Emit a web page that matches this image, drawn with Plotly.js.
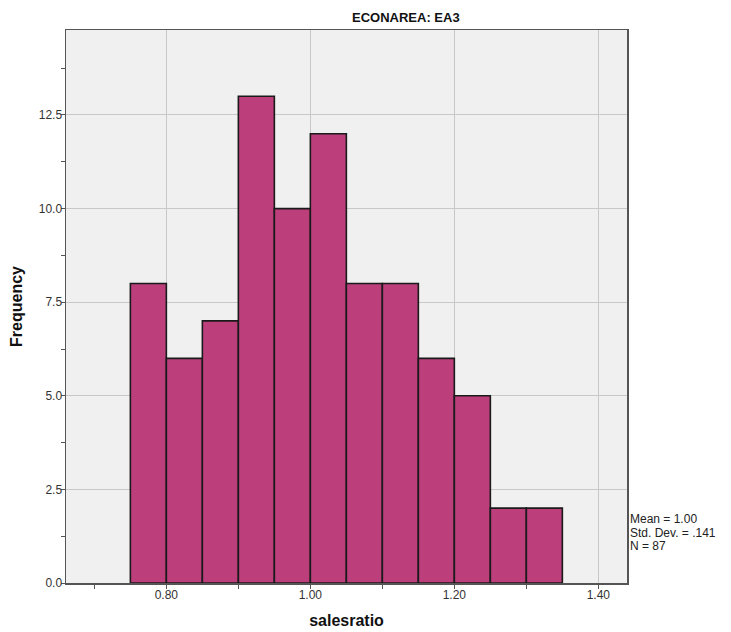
<!DOCTYPE html>
<html>
<head>
<meta charset="utf-8">
<script src="https://cdn.plot.ly/plotly-3.0.1.min.js"></script>
<style>html,body{margin:0;padding:0;background:#fff;}#chart{width:731px;height:632px;}</style>
</head>
<body>
<div id="chart"></div>
<script>
const binStarts = [0.75, 0.80, 0.85, 0.90, 0.95, 1.00, 1.05, 1.10, 1.15, 1.20, 1.25, 1.30];
const binWidth = 0.05;
const counts = [8, 6, 7, 13, 10, 12, 8, 8, 6, 5, 2, 2];
const xTickVals = [0.8, 1.0, 1.2, 1.4];
const xTickText = ['0.80', '1.00', '1.20', '1.40'];
const yTickVals = [0, 2.5, 5, 7.5, 10, 12.5];
const yTickText = ['0.0', '2.5', '5.0', '7.5', '10.0', '12.5'];
const chartTitle = 'ECONAREA: EA3';
const statsLines = ['Mean = 1.00', 'Std. Dev. = .141', 'N = 87'];

const trace = {
  type: 'bar',
  x: binStarts,
  y: counts,
  width: binStarts.map(() => binWidth),
  offset: 0,
  marker: {color: '#BC3F7C', line: {color: '#1a1a1a', width: 1.6}},
  hoverinfo: 'x+y'
};

const font = 'Liberation Sans, Arial, sans-serif';
const plotTop = 30, plotBottom = 583;
const py = p => (plotBottom - p) / (plotBottom - plotTop);

const annotations = [
  {text: '<b>' + chartTitle + '</b>', xref: 'paper', yref: 'paper', x: (406 - 66) / 561, y: 1, yshift: 13,
   xanchor: 'center', yanchor: 'middle', showarrow: false,
   font: {family: font, size: 13, color: '#111111'}}
];
statsLines.forEach((s, i) => {
  annotations.push({text: s, xref: 'paper', yref: 'paper', x: 1, y: py(519 + i * 13.5), xshift: 1,
    xanchor: 'left', yanchor: 'middle', align: 'left', showarrow: false,
    font: {family: font, size: 12, color: '#222222'}});
});

const layout = {
  width: 731, height: 632,
  margin: {l: 66, r: 104, t: plotTop, b: 632 - plotBottom},
  paper_bgcolor: '#ffffff',
  plot_bgcolor: '#F0F0F0',
  showlegend: false,
  bargap: 0,
  xaxis: {
    range: [0.6606, 1.4398],
    tickvals: xTickVals, ticktext: xTickText,
    ticks: '', showgrid: true, gridcolor: '#C8C8C8', gridwidth: 1,
    zeroline: false,
    showline: true, linecolor: '#555555', linewidth: 1.5, mirror: true,
    tickfont: {family: font, size: 12, color: '#333333'},
    minor: {ticks: 'outside', dtick: 0.1, tick0: 0.7, ticklen: 4, tickcolor: '#555555', showgrid: false},
    title: {text: 'salesratio', font: {family: font, size: 16, color: '#111111', weight: 'bold'}, standoff: 14}
  },
  yaxis: {
    range: [0, 14.77],
    tickvals: yTickVals, ticktext: yTickText,
    ticks: '', showgrid: true, gridcolor: '#C8C8C8', gridwidth: 1,
    zeroline: false,
    showline: true, linecolor: '#555555', linewidth: 1.5, mirror: true,
    tickfont: {family: font, size: 12, color: '#333333'},
    minor: {ticks: 'outside', dtick: 1.25, tick0: 0, ticklen: 4, tickcolor: '#555555', showgrid: false},
    title: {text: 'Frequency', font: {family: font, size: 16, color: '#111111', weight: 'bold'}, standoff: 12}
  },
  annotations: annotations
};

Plotly.newPlot('chart', [trace], layout, {displayModeBar: false, staticPlot: true});
</script>
</body>
</html>
